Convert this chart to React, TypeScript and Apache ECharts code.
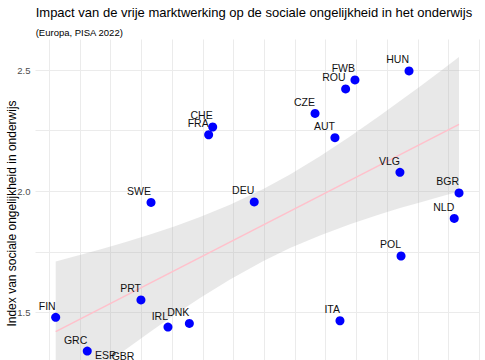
import React, { useEffect, useRef } from "react";
import * as echarts from "echarts";

// Countries / regions and their values (x: market-freedom index, y: social inequality index)
const countries = ["FIN", "GRC", "ESP", "GBR", "PRT", "SWE", "IRL", "DNK", "FRA", "CHE", "DEU", "CZE", "AUT", "ITA", "ROU", "FWB", "VLG", "POL", "HUN", "NLD", "BGR"];
const marketIndex = [0.052, 0.309, 0.543, 0.693, 0.746, 0.828, 0.966, 1.140, 1.297, 1.330, 1.668, 2.163, 2.325, 2.366, 2.412, 2.488, 2.854, 2.863, 2.928, 3.296, 3.335];
const inequalityIndex = [1.480, 1.341, 1.278, 1.273, 1.552, 1.954, 1.440, 1.455, 2.233, 2.265, 1.956, 2.321, 2.221, 1.466, 2.422, 2.459, 2.078, 1.733, 2.496, 1.888, 1.993];

// Linear fit (endpoints) and its confidence band
const fitX = [0.0521, 3.3347];
const fitY = [1.4208, 2.2761];
const bandX = [0.0521, 0.4127, 0.6162, 0.8196, 1.0231, 1.2266, 1.4708, 1.7426, 1.9591, 2.2033, 2.4475, 2.6917, 2.8545, 3.0172, 3.18, 3.3347];
const bandUpper = [1.7103, 1.7602, 1.7899, 1.8221, 1.8559, 1.8934, 1.9441, 2.0097, 2.0695, 2.1445, 2.2258, 2.3124, 2.3718, 2.4324, 2.4938, 2.5532];
const bandLower = [1.1313, 1.2695, 1.3454, 1.4196, 1.4918, 1.5602, 1.6365, 1.7128, 1.766, 1.8179, 1.8637, 1.9049, 1.9305, 1.954, 1.9775, 1.999];

// Axis ticks
const yTickLabels = [1.5, 2.0, 2.5];

const titleText = "Impact van de vrije marktwerking op de sociale ongelijkheid in het onderwijs";
const subtitleText = "(Europa, PISA 2022)";
const yTitle = "Index van sociale ongelijkheid in onderwijs";

const FONT = '"Liberation Sans", Arial, Helvetica, sans-serif';
const GRID_COLOR = "#ebebeb";

export default function App() {
  const ref = useRef<HTMLDivElement>(null);

  useEffect(() => {
    if (!ref.current) return;
    const chart = echarts.init(ref.current, null, { renderer: "svg" });

    const points = countries.map((c, i) => ({ name: c, value: [marketIndex[i], inequalityIndex[i]] }));
    const fitData = fitX.map((x, i) => [x, fitY[i]]);

    const hidden = { axisLine: { show: false }, axisTick: { show: false }, axisLabel: { show: false }, splitLine: { show: false } };

    chart.setOption({
      animation: false,
      textStyle: { fontFamily: FONT },
      grid: [
        // vertical gridlines
        { left: 49.3, right: 5.7, top: 39.5, height: 348 },
        // horizontal gridlines + y labels
        { left: 35.5, right: 5.7, top: 70, height: 303.125 },
        // data panel
        { left: 35.5, right: 5.7, top: 39.5, height: 348 },
      ],
      xAxis: [
        {
          gridIndex: 0, type: "value", min: 0, max: 3.5, interval: 0.25,
          axisLine: { show: false }, axisTick: { show: false }, axisLabel: { show: false },
          splitLine: { show: true, lineStyle: { color: GRID_COLOR, width: 1 } },
        },
        { gridIndex: 1, type: "value", min: 0, max: 1, ...hidden },
        { gridIndex: 2, type: "value", min: -0.11232, max: 3.5, ...hidden },
      ],
      yAxis: [
        { gridIndex: 0, type: "value", min: 0, max: 1, ...hidden },
        {
          gridIndex: 1, type: "value", min: 1.25, max: 2.5, interval: 0.25,
          axisLine: { show: false }, axisTick: { show: false },
          axisLabel: {
            show: true, margin: 5, color: "#4d4d4d", fontSize: 9.5, fontFamily: FONT,
            formatter: (v: number) => (yTickLabels.some((t) => Math.abs(t - v) < 1e-6) ? v.toFixed(1) : ""),
          },
          splitLine: { show: true, lineStyle: { color: GRID_COLOR, width: 1 } },
        },
        { gridIndex: 2, type: "value", min: 1.19072, max: 2.62577, ...hidden },
      ],
      series: [
        {
          type: "custom", xAxisIndex: 2, yAxisIndex: 2, data: [[bandX[0], bandUpper[0]]], silent: true, z: 1,
          renderItem: (params: any, api: any) => {
            const pts: number[][] = [];
            for (let i = 0; i < bandX.length; i++) pts.push(api.coord([bandX[i], bandUpper[i]]));
            for (let i = bandX.length - 1; i >= 0; i--) pts.push(api.coord([bandX[i], bandLower[i]]));
            return { type: "polygon", shape: { points: pts, smooth: 0 }, style: { fill: "rgba(170,170,170,0.27)" } };
          },
        },
        {
          type: "line", xAxisIndex: 2, yAxisIndex: 2, data: fitData,
          symbol: "none", lineStyle: { color: "#ffc0cb", width: 1.5 }, silent: true, z: 2,
        },
        {
          type: "scatter", xAxisIndex: 2, yAxisIndex: 2, data: points,
          symbol: "circle", symbolSize: 9, itemStyle: { color: "#0000ff", opacity: 1 }, z: 3,
          label: {
            show: true, formatter: "{b}", position: "inside", align: "right", verticalAlign: "middle",
            offset: [0, -11.5], color: "#111", fontSize: 10.5, fontFamily: FONT,
          },
        },
      ],
      graphic: [
        {
          type: "text", x: 35.7, y: 12.6,
          style: { text: titleText, fontSize: 13, fontFamily: FONT, fill: "#000", align: "left", verticalAlign: "middle" },
        },
        {
          type: "text", x: 35.7, y: 32.5,
          style: { text: subtitleText, fontSize: 9.5, fontFamily: FONT, fill: "#000", align: "left", verticalAlign: "middle" },
        },
        {
          type: "text", x: 11.5, y: 213.5, rotation: Math.PI / 2,
          style: { text: yTitle, fontSize: 12, fontFamily: FONT, fill: "#000", align: "center", verticalAlign: "middle" },
        },
      ],
    });

    return () => chart.dispose();
  }, []);

  return (
    <div style={{ position: "fixed", left: 0, top: 0, width: 485, height: 360, overflow: "hidden", background: "#fff" }}>
      <div ref={ref} style={{ width: 485, height: 420 }} />
    </div>
  );
}
